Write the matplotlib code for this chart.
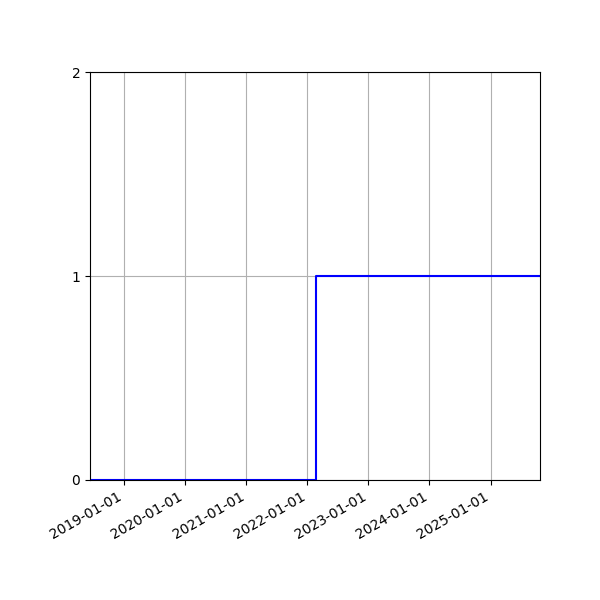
import numpy as np
import pandas as pd
import matplotlib
matplotlib.use("Agg")
import matplotlib.pyplot as plt
import matplotlib.dates as mdates

# 状态变化日期与取值
dates = pd.to_datetime(["2018-06-10", "2022-02-24", "2025-10-24"])
values = [0, 1, 1]
yticks = [0, 1, 2]

fig, ax = plt.subplots(figsize=(6, 6), dpi=100)
ax.step(dates, values, where="post", color="blue", linewidth=1.5)

ax.set_xlim(dates[0], dates[-1])
ax.set_ylim(0, 2)
ax.set_yticks(yticks)
ax.xaxis.set_major_locator(mdates.YearLocator())
ax.xaxis.set_major_formatter(mdates.DateFormatter("%Y-%m-%d"))
ax.grid(True)
fig.autofmt_xdate()
fig.subplots_adjust(left=0.15, right=0.9, top=0.88, bottom=0.2)

plt.savefig("out.png")
